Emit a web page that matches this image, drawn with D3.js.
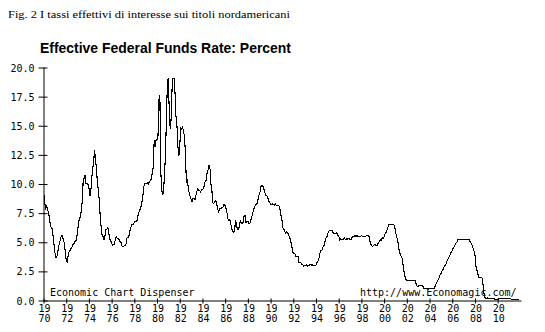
<!DOCTYPE html>
<html>
<head>
<meta charset="utf-8">
<script src="https://cdn.jsdelivr.net/npm/d3@7"></script>
<style>
  body { margin: 0; background: #fff; }
  svg { display: block; }
  .mono { font-family: "DejaVu Sans Mono", monospace; font-size: 10px; fill: #000; }
</style>
</head>
<body>
<div id="chart"></div>
<script>
// monthly effective federal funds rate, percent (one row per year)
const startYear = 1970;
const rates1970s = [
    8.98, 8.98, 7.76, 8.10, 7.95, 7.61, 7.21, 6.61, 6.29, 6.20, 5.60, 4.90,
    4.14, 3.72, 3.71, 4.15, 4.63, 4.91, 5.31, 5.57, 5.55, 5.20, 4.91, 4.14,
    3.50, 3.29, 3.83, 4.17, 4.27, 4.46, 4.55, 4.80, 4.87, 5.04, 5.06, 5.33,
    5.94, 6.58, 7.09, 7.12, 7.84, 8.49, 10.40, 10.50, 10.78, 10.01, 10.03, 9.95,
    9.65, 8.97, 9.35, 10.51, 11.31, 11.93, 12.92, 12.01, 11.34, 10.06, 9.45, 8.53,
    7.13, 6.24, 5.54, 5.49, 5.22, 5.55, 6.10, 6.14, 6.24, 5.82, 5.22, 5.20,
    4.87, 4.77, 4.84, 4.82, 5.29, 5.48, 5.31, 5.29, 5.25, 5.03, 4.95, 4.65,
    4.61, 4.68, 4.69, 4.73, 5.35, 5.39, 5.42, 5.90, 6.14, 6.47, 6.51, 6.56,
    6.70, 6.78, 6.79, 6.89, 7.36, 7.60, 7.81, 8.04, 8.45, 8.96, 9.76, 10.03,
    10.07, 10.06, 10.09, 10.01, 10.24, 10.29, 10.47, 10.94, 11.43, 13.77, 13.18, 13.78
];
const rates1980s = [
    13.82, 14.13, 17.19, 17.61, 10.98, 9.47, 9.03, 9.61, 10.87, 12.81, 15.85, 18.90,
    19.08, 15.93, 14.70, 15.72, 18.52, 19.10, 19.04, 17.82, 15.87, 15.08, 13.31, 12.37,
    13.22, 14.78, 14.68, 14.94, 14.45, 14.15, 12.59, 10.12, 10.31, 9.71, 9.20, 8.95,
    8.68, 8.51, 8.77, 8.80, 8.63, 8.98, 9.37, 9.56, 9.45, 9.48, 9.34, 9.47,
    9.56, 9.59, 9.91, 10.29, 10.32, 11.06, 11.23, 11.64, 11.30, 9.99, 9.43, 8.38,
    8.35, 8.50, 8.58, 8.27, 7.97, 7.53, 7.88, 7.90, 7.92, 7.99, 8.05, 8.27,
    8.14, 7.86, 7.48, 6.99, 6.85, 6.92, 6.56, 6.17, 5.89, 5.85, 6.04, 6.91,
    6.43, 6.10, 6.13, 6.37, 6.85, 6.73, 6.58, 6.73, 7.22, 7.29, 6.69, 6.77,
    6.83, 6.58, 6.58, 6.87, 7.09, 7.51, 7.75, 8.01, 8.19, 8.30, 8.35, 8.76,
    9.12, 9.36, 9.85, 9.84, 9.81, 9.53, 9.24, 8.99, 9.02, 8.84, 8.55, 8.45
];
const rates1990s = [
    8.23, 8.24, 8.28, 8.26, 8.18, 8.29, 8.15, 8.13, 8.20, 8.11, 7.81, 7.31,
    6.91, 6.25, 6.12, 5.91, 5.78, 5.90, 5.82, 5.66, 5.45, 5.21, 4.81, 4.43,
    4.03, 4.06, 3.98, 3.73, 3.82, 3.76, 3.25, 3.30, 3.22, 3.10, 3.09, 2.92,
    3.02, 3.03, 3.07, 2.96, 3.00, 3.04, 3.06, 3.03, 3.09, 2.99, 3.02, 2.96,
    3.05, 3.25, 3.34, 3.56, 4.01, 4.25, 4.26, 4.47, 4.73, 4.76, 5.29, 5.45,
    5.53, 5.92, 5.98, 6.05, 6.01, 6.00, 5.85, 5.74, 5.80, 5.76, 5.80, 5.60,
    5.56, 5.22, 5.31, 5.22, 5.24, 5.27, 5.40, 5.22, 5.30, 5.24, 5.31, 5.29,
    5.25, 5.19, 5.39, 5.51, 5.50, 5.56, 5.52, 5.54, 5.54, 5.50, 5.52, 5.50,
    5.56, 5.51, 5.49, 5.45, 5.49, 5.56, 5.54, 5.55, 5.51, 5.07, 4.83, 4.68,
    4.63, 4.76, 4.81, 4.74, 4.74, 4.76, 4.99, 5.07, 5.22, 5.20, 5.42, 5.30
];
const rates2000s = [
    5.45, 5.73, 5.85, 6.02, 6.27, 6.53, 6.54, 6.50, 6.52, 6.51, 6.51, 6.40,
    5.98, 5.49, 5.31, 4.80, 4.21, 3.97, 3.77, 3.65, 3.07, 2.49, 2.09, 1.82,
    1.73, 1.74, 1.73, 1.75, 1.75, 1.75, 1.73, 1.74, 1.75, 1.75, 1.34, 1.24,
    1.24, 1.26, 1.25, 1.26, 1.26, 1.22, 1.01, 1.03, 1.01, 1.01, 1.00, 0.98,
    1.00, 1.01, 1.00, 1.00, 1.00, 1.03, 1.26, 1.43, 1.61, 1.76, 1.93, 2.16,
    2.28, 2.50, 2.63, 2.79, 3.00, 3.04, 3.26, 3.50, 3.62, 3.78, 4.00, 4.16,
    4.29, 4.49, 4.59, 4.79, 4.94, 4.99, 5.24, 5.25, 5.25, 5.25, 5.25, 5.24,
    5.25, 5.26, 5.26, 5.25, 5.25, 5.25, 5.26, 5.02, 4.94, 4.76, 4.49, 4.24,
    3.94, 2.98, 2.61, 2.28, 1.98, 2.00, 2.01, 2.00, 1.81, 0.97, 0.39, 0.16,
    0.15, 0.22, 0.18, 0.15, 0.18, 0.21, 0.16, 0.16, 0.15, 0.12, 0.12, 0.12
];
const rates2010s = [
    0.11, 0.13, 0.16, 0.20, 0.20, 0.18, 0.18, 0.19, 0.19, 0.19, 0.19, 0.18,
    0.17, 0.16, 0.14, 0.10, 0.09, 0.09, 0.07, 0.10, 0.08, 0.07, 0.08, 0.07
];
const tickYears = d3.range(1970, 2011, 2);
const yTicks = [0, 2.5, 5, 7.5, 10, 12.5, 15, 17.5, 20];

const caption = 'Fig. 2 I tassi effettivi di interesse sui titoli nordamericani';
const title = 'Effective Federal Funds Rate: Percent';
const creditLeft = 'Economic Chart Dispenser';
const creditRight = 'http://www.Economagic.com/';

const width = 545;
const height = 332;

const rates = [...rates1970s, ...rates1980s, ...rates1990s, ...rates2000s, ...rates2010s];
const data = rates.map((v, i) => ({ t: startYear + i / 12, v: v }));

const x = d3.scaleLinear().domain([1970, 2012.1]).range([43.5, 521.5]);
const y = d3.scaleLinear().domain([0, 20]).range([300.5, 67.5]);

const svg = d3.select('#chart').append('svg')
    .attr('width', width)
    .attr('height', height);

svg.append('text')
    .attr('x', 8)
    .attr('y', 17.5)
    .attr('textLength', 282)
    .attr('lengthAdjust', 'spacingAndGlyphs')
    .style('font-family', '"Liberation Serif", serif')
    .style('font-size', '11px')
    .text(caption);

svg.append('text')
    .attr('x', 40)
    .attr('y', 53)
    .attr('textLength', 251)
    .attr('lengthAdjust', 'spacingAndGlyphs')
    .style('font-family', '"Liberation Sans", Arial, sans-serif')
    .style('font-weight', 'bold')
    .style('font-size', '15px')
    .text(title);

// y axis
const yAxis = svg.append('g')
    .attr('transform', `translate(${x(1970)},0)`)
    .call(d3.axisLeft(y).tickValues(yTicks).tickFormat(d3.format('.1f')).tickSizeOuter(0));
yAxis.select('.domain').attr('d', `M0.5,${y(20)}V${y(0)}`).attr('stroke', '#000');
yAxis.selectAll('.tick line').attr('x1', -5).attr('x2', 4).attr('stroke', '#000');
yAxis.selectAll('.tick text')
    .attr('class', 'mono')
    .attr('x', -9)
    .attr('dy', '0.35em')
    .style('font-family', null)
    .style('font-size', null);
yAxis.attr('font-family', null).attr('font-size', null);

// x axis
const xAxis = svg.append('g')
    .attr('transform', `translate(0,${y(0)})`)
    .call(d3.axisBottom(x).tickValues(tickYears).tickFormat('').tickSizeOuter(0));
xAxis.select('.domain').attr('d', `M${x(1970)},0.5H${x.range()[1]}`).attr('stroke', '#000');
xAxis.selectAll('.tick line').attr('y1', -2).attr('y2', 3).attr('stroke', '#000');
xAxis.attr('font-family', null).attr('font-size', null);

const tickLabels = xAxis.selectAll('.tick').append('text')
    .attr('class', 'mono')
    .attr('text-anchor', 'middle');
tickLabels.append('tspan')
    .attr('x', 0.5)
    .attr('y', 11.5)
    .text(d => String(d).slice(0, 2));
tickLabels.append('tspan')
    .attr('x', 0.5)
    .attr('y', 21)
    .text(d => String(d).slice(2));

svg.selectAll('.tick text').style('fill', '#000');

// credits inside plot area
svg.append('text')
    .attr('class', 'mono')
    .attr('x', 50)
    .attr('y', 295.5)
    .text(creditLeft);
svg.append('text')
    .attr('class', 'mono')
    .attr('x', 360)
    .attr('y', 295.5)
    .text(creditRight);

// the series
const line = d3.line()
    .x(d => x(d.t))
    .y(d => y(d.v));

svg.append('path')
    .datum(data)
    .attr('d', line)
    .attr('fill', 'none')
    .attr('stroke', '#000')
    .attr('stroke-width', 1.1)
    .attr('shape-rendering', 'crispEdges');
</script>
</body>
</html>
